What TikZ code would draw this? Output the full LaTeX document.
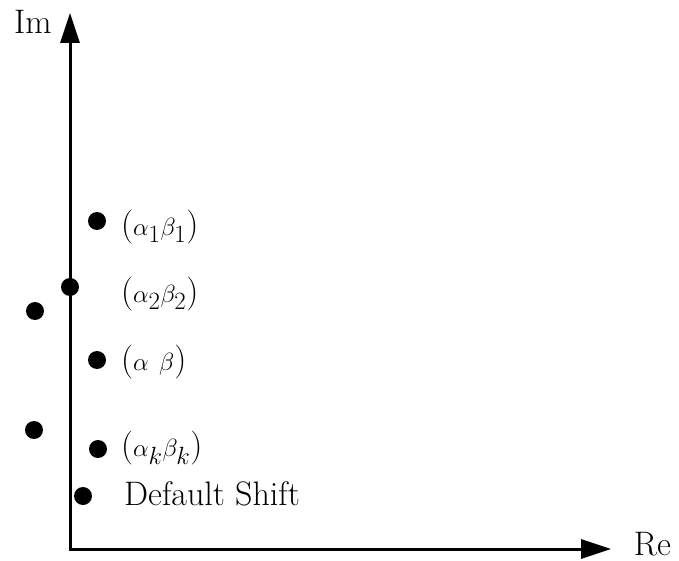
\documentclass[tikz,border=0pt]{standalone}
\usetikzlibrary{arrows.meta}
\begin{document}
\begin{tikzpicture}[x=1pt,y=-1pt,
  dot/.style={circle,fill=black,inner sep=0pt,minimum size=18pt},
  lbl/.style={anchor=base west,inner sep=0pt,font=\fontsize{34}{40}\selectfont},
  axlbl/.style={inner sep=0pt,font=\fontsize{34}{40}\selectfont},
  axisline/.style={line width=3pt,{Triangle[length=30pt,width=19pt]}-{Triangle[length=30pt,width=19pt]}}]
\useasboundingbox (0,0) rectangle (679,561);
\coordinate (Y) at (70,13);
\coordinate (O) at (70,549);
\coordinate (X) at (611,549);
\draw[axisline] (Y) -- (O) -- (X);
\node[axlbl,anchor=base west] (im) at (14,34) {Im};
\node[axlbl,anchor=base east] (re) at (671,555) {Re};
% points
\node[dot] (p1) at (97,221) {};
\node[dot] (p2) at (70,287) {};
\node[dot] (q1) at (35,311) {};
\node[dot] (p3) at (97,360) {};
\node[dot] (q2) at (34,430) {};
\node[dot] (pk) at (98,449) {};
\node[dot] (pd) at (83,496) {};
% labels
\node[lbl] (l1) at (121,235) {($\alpha_1\beta_1$)};
\node[lbl] (l2) at (121,302) {($\alpha_2\beta_2$)};
\node[lbl] (l3) at (121,370) {($\alpha$\ $\beta$)};
\node[lbl] (lk) at (121,456) {($\alpha_k\beta_k$)};
\node[lbl] (ld) at (124,505) {Default Shift};
\end{tikzpicture}
\end{document}
